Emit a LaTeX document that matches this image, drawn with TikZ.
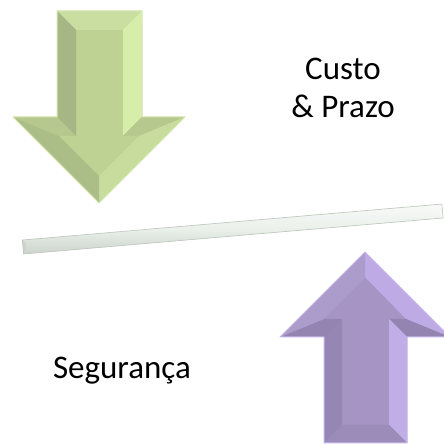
\documentclass[tikz,border=0pt]{standalone}
\usepackage{fontspec}
\setmainfont{Carlito}
\usepackage{xcolor}

\definecolor{grnface}{RGB}{190,210,148}
\definecolor{grntop}{RGB}{202,222,162}
\definecolor{grnleft}{RGB}{166,183,133}
\definecolor{grnright}{RGB}{214,238,170}
\definecolor{grnwing}{RGB}{182,200,142}
\definecolor{grnldiag}{RGB}{172,190,136}
\definecolor{grnrdiag}{RGB}{200,220,158}
\definecolor{grnedge}{RGB}{214,232,176}
\definecolor{purface}{RGB}{165,148,196}
\definecolor{purleft}{RGB}{150,134,180}
\definecolor{purright}{RGB}{194,174,230}
\definecolor{purbottom}{RGB}{156,140,186}
\definecolor{purwing}{RGB}{148,132,178}
\definecolor{purldiag}{RGB}{172,156,204}
\definecolor{purrdiag}{RGB}{190,170,228}
\definecolor{puredge}{RGB}{200,182,236}
\definecolor{barlight}{RGB}{248,250,248}
\definecolor{barmid}{RGB}{234,240,234}
\definecolor{bardark}{RGB}{204,212,204}
\definecolor{baredge}{RGB}{186,196,186}

\begin{document}
\begin{tikzpicture}[x=1pt,y=1pt,
    lbl/.style={font=\fontsize{33}{40}\selectfont,inner sep=0pt,anchor=base}]
    \clip (0,0) rectangle (444,445);
    \fill[white] (0,0) rectangle (444,445);
    % green arrow, outer and inner outline
    \coordinate (g1) at (57,434);
    \coordinate (g2) at (142,434);
    \coordinate (g3) at (142,328);
    \coordinate (g4) at (185,328);
    \coordinate (g5) at (99,242);
    \coordinate (g6) at (13,328);
    \coordinate (g7) at (57,328);
    \coordinate (h1) at (76,415);
    \coordinate (h2) at (123,415);
    \coordinate (h3) at (123,309);
    \coordinate (h4) at (139,309);
    \coordinate (h5) at (99,269);
    \coordinate (h6) at (59,309);
    \coordinate (h7) at (76,309);
    \fill[grnface] (g1) -- (g2) -- (g3) -- (g4) -- (g5) -- (g6) -- (g7) -- cycle;
    \foreach \a/\b/\c in {1/2/grntop, 2/3/grnright, 3/4/grnwing, 4/5/grnrdiag,
                          5/6/grnldiag, 6/7/grnwing, 7/1/grnleft}
        \fill[\c] (g\a) -- (g\b) -- (h\b) -- (h\a) -- cycle;
    \draw[grnedge,line width=1pt,line join=round]
        (g1) -- (g2) -- (g3) -- (g4) -- (g5) -- (g6) -- (g7) -- cycle;
    % purple arrow
    \coordinate (p1) at (365,193);
    \coordinate (p2) at (450,108);
    \coordinate (p3) at (407,108);
    \coordinate (p4) at (407,2);
    \coordinate (p5) at (324,2);
    \coordinate (p6) at (324,108);
    \coordinate (p7) at (280,108);
    \coordinate (q1) at (365,168);
    \coordinate (q2) at (406,126);
    \coordinate (q3) at (389,126);
    \coordinate (q4) at (389,20);
    \coordinate (q5) at (342,20);
    \coordinate (q6) at (342,126);
    \coordinate (q7) at (324,126);
    \fill[purface] (p1) -- (p2) -- (p3) -- (p4) -- (p5) -- (p6) -- (p7) -- cycle;
    \foreach \a/\b/\c in {1/2/purrdiag, 2/3/purwing, 3/4/purright, 4/5/purbottom,
                          5/6/purleft, 6/7/purwing, 7/1/purldiag}
        \fill[\c] (p\a) -- (p\b) -- (q\b) -- (q\a) -- cycle;
    \draw[puredge,line width=1pt,line join=round]
        (p1) -- (p2) -- (p3) -- (p4) -- (p5) -- (p6) -- (p7) -- cycle;
    % beam
    \begin{scope}[shift={(23,198)},rotate=4.9]
        \shade[top color=barlight,bottom color=bardark,middle color=barmid]
            (0,-7) rectangle (421,7);
        \fill[bardark] (0,-7) -- (3,-4) -- (3,4) -- (0,7) -- cycle;
        \fill[barlight] (421,-7) -- (418,-4) -- (418,4) -- (421,7) -- cycle;
        \draw[baredge,line width=0.6pt] (0,-7) rectangle (421,7);
    \end{scope}
    \node[lbl] (custo) at (343,365) {Custo};
    \node[lbl] (prazo) at (343,327) {\& Prazo};
    \node[lbl] (seguranca) at (122,66) {Segurança};
\end{tikzpicture}
\end{document}
